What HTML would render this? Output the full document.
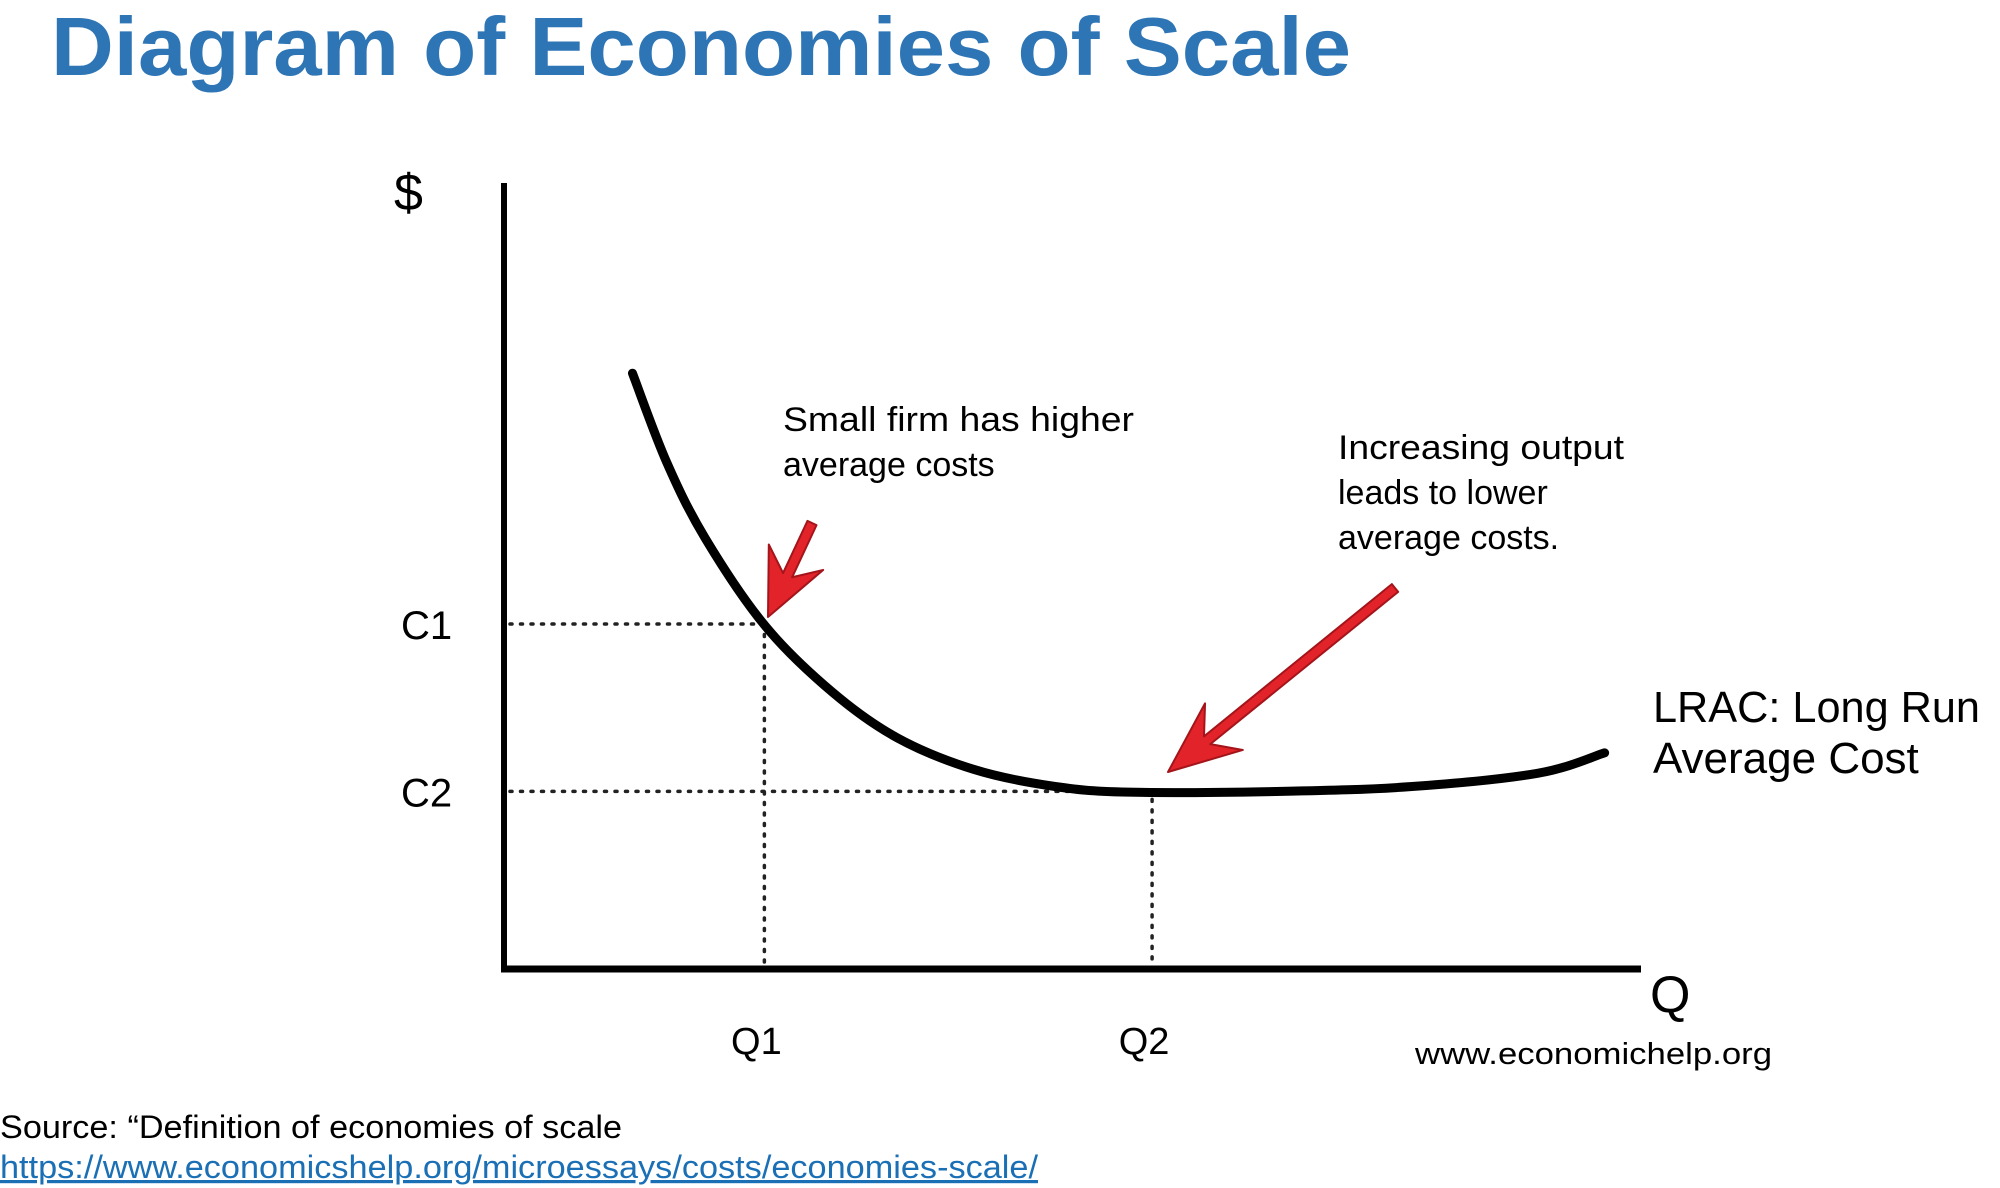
<!DOCTYPE html>
<html><head><meta charset="utf-8"><style>
html,body{margin:0;padding:0;background:#fff;}
svg{display:block;font-family:"Liberation Sans",Arial,sans-serif;}
</style></head><body>
<svg id="chart" width="2000" height="1188" viewBox="0 0 2000 1188" xmlns="http://www.w3.org/2000/svg">
<text x="51" y="75" font-size="83" font-weight="bold" fill="#2e75b6" textLength="1300" lengthAdjust="spacingAndGlyphs">Diagram of Economies of Scale</text>
<g id="plot"></g>
<text x="394" y="210" font-size="52" fill="#000">$</text>
<text x="1650" y="1012" font-size="52" fill="#000">Q</text>
<text font-size="34" fill="#000"><tspan x="783" y="431" textLength="351" lengthAdjust="spacingAndGlyphs">Small firm has higher</tspan><tspan x="783" y="476">average costs</tspan></text>
<text font-size="34" fill="#000"><tspan x="1338" y="459" textLength="286" lengthAdjust="spacingAndGlyphs">Increasing output</tspan><tspan x="1338" y="504">leads to lower</tspan><tspan x="1338" y="549">average costs.</tspan></text>
<text font-size="44" fill="#000"><tspan x="1653" y="722" textLength="327" lengthAdjust="spacingAndGlyphs">LRAC: Long Run</tspan><tspan x="1653" y="773">Average Cost</tspan></text>
<text x="1415" y="1064" font-size="31" fill="#000" textLength="357" lengthAdjust="spacingAndGlyphs">www.economichelp.org</text>
<text x="0" y="1138" font-size="32" fill="#000" textLength="622" lengthAdjust="spacingAndGlyphs">Source: “Definition of economies of scale</text>
<text x="0" y="1178" font-size="32" fill="#1a6fb5" text-decoration="underline" textLength="1038" lengthAdjust="spacingAndGlyphs">https://www.economicshelp.org/microessays/costs/economies-scale/</text>
</svg>
<script>
// LRAC curve data (quantity, average cost) in axis units 0-100
const qValues = [11.3, 14.3, 17.7, 23.0, 28.9, 34.6, 41.3, 48.1, 54.9, 68.4, 79.7, 90.9, 96.8];
const costValues = [75.8, 64.5, 54.8, 43.6, 35.2, 29.4, 25.4, 23.3, 22.5, 22.6, 23.2, 24.9, 27.5];
const refLabels = ["C1", "C2"];
const refCosts = [43.9, 22.6];
const qLabels = ["Q1", "Q2"];
const qRefs = [22.9, 57.0];

const X0 = 504, X1 = 1641, Y0 = 969, Y1 = 183;
function xs(v){ return X0 + (X1 - X0) * v / 100; }
function ys(v){ return Y0 - (Y0 - Y1) * v / 100; }

const NS = "http://www.w3.org/2000/svg";
const plot = document.getElementById("plot");
function mk(tag, attrs){ const e = document.createElementNS(NS, tag); for (const k in attrs) e.setAttribute(k, attrs[k]); plot.appendChild(e); return e; }

// dotted reference lines
const dot = {stroke:"#222","stroke-width":3.5,"stroke-dasharray":"2 8.5",fill:"none","stroke-linecap":"round"};
const h1 = mk("line", Object.assign({x1:xs(0)+6,y1:ys(refCosts[0]),x2:xs(qRefs[0]),y2:ys(refCosts[0])},dot));


const h2 = mk("line", Object.assign({x1:xs(0)+6,y1:ys(refCosts[1]),x2:xs(qRefs[1])-40,y2:ys(refCosts[1])},dot));


const v1 = mk("line", Object.assign({x1:xs(qRefs[0]),y1:ys(refCosts[0]),x2:xs(qRefs[0]),y2:ys(0)},dot));


const v2 = mk("line", Object.assign({x1:xs(qRefs[1]),y1:ys(refCosts[1])+8,x2:xs(qRefs[1]),y2:ys(0)},dot));



// axes
const ya = mk("line",{x1:xs(0),y1:ys(100),x2:xs(0),y2:ys(0)+3,stroke:"#000","stroke-width":6});


const xa = mk("line",{x1:xs(0)-3,y1:ys(0),x2:xs(100),y2:ys(0),stroke:"#000","stroke-width":7});



// curve (Catmull-Rom)
const pts = qValues.map((q,i)=>[xs(q), ys(costValues[i])]);
let d = "M" + pts[0][0] + "," + pts[0][1];
for (let i=0;i<pts.length-1;i++){
  const p0=pts[Math.max(0,i-1)], p1=pts[i], p2=pts[i+1], p3=pts[Math.min(pts.length-1,i+2)];
  const c1=[p1[0]+(p2[0]-p0[0])/6, p1[1]+(p2[1]-p0[1])/6];
  const c2=[p2[0]-(p3[0]-p1[0])/6, p2[1]-(p3[1]-p1[1])/6];
  d += " C"+c1[0]+","+c1[1]+" "+c2[0]+","+c2[1]+" "+p2[0]+","+p2[1];
}
const curve = mk("path",{d:d,stroke:"#000","stroke-width":9,fill:"none","stroke-linecap":"round"});



// tick labels
refLabels.forEach((t,i)=>{
  const e = mk("text",{x:xs(0)-103,y:ys(refCosts[i])+15,"font-size":40,fill:"#000"});
  e.textContent = t;
  
  
});
qLabels.forEach((t,i)=>{
  const e = mk("text",{x:xs(qRefs[i])-8,y:1054,"font-size":38,fill:"#000","text-anchor":"middle"});
  e.textContent = t;
  
  
});

// arrows
function arrow(tx,ty,hx,hy,headLen,headHalf,shaft){
  const dx=hx-tx, dy=hy-ty, L=Math.hypot(dx,dy), ux=dx/L, uy=dy/L, px=-uy, py=ux;
  const bx=hx-ux*headLen, by=hy-uy*headLen, nx=hx-ux*headLen*0.7, ny=hy-uy*headLen*0.7;
  const P=[[tx+px*shaft,ty+py*shaft],[nx+px*shaft,ny+py*shaft],[bx+px*headHalf,by+py*headHalf],[hx,hy],[bx-px*headHalf,by-py*headHalf],[nx-px*shaft,ny-py*shaft],[tx-px*shaft,ty-py*shaft]];
  return mk("polygon",{points:P.map(p=>p.join(",")).join(" "),fill:"#e3232a",stroke:"#a3151a","stroke-width":2,"stroke-linejoin":"round"});
}
const a1 = arrow(812,523,768,617,66,30,5);


const a2 = arrow(1395,588,1168,772,72,30,5);


</script>
</body></html>
